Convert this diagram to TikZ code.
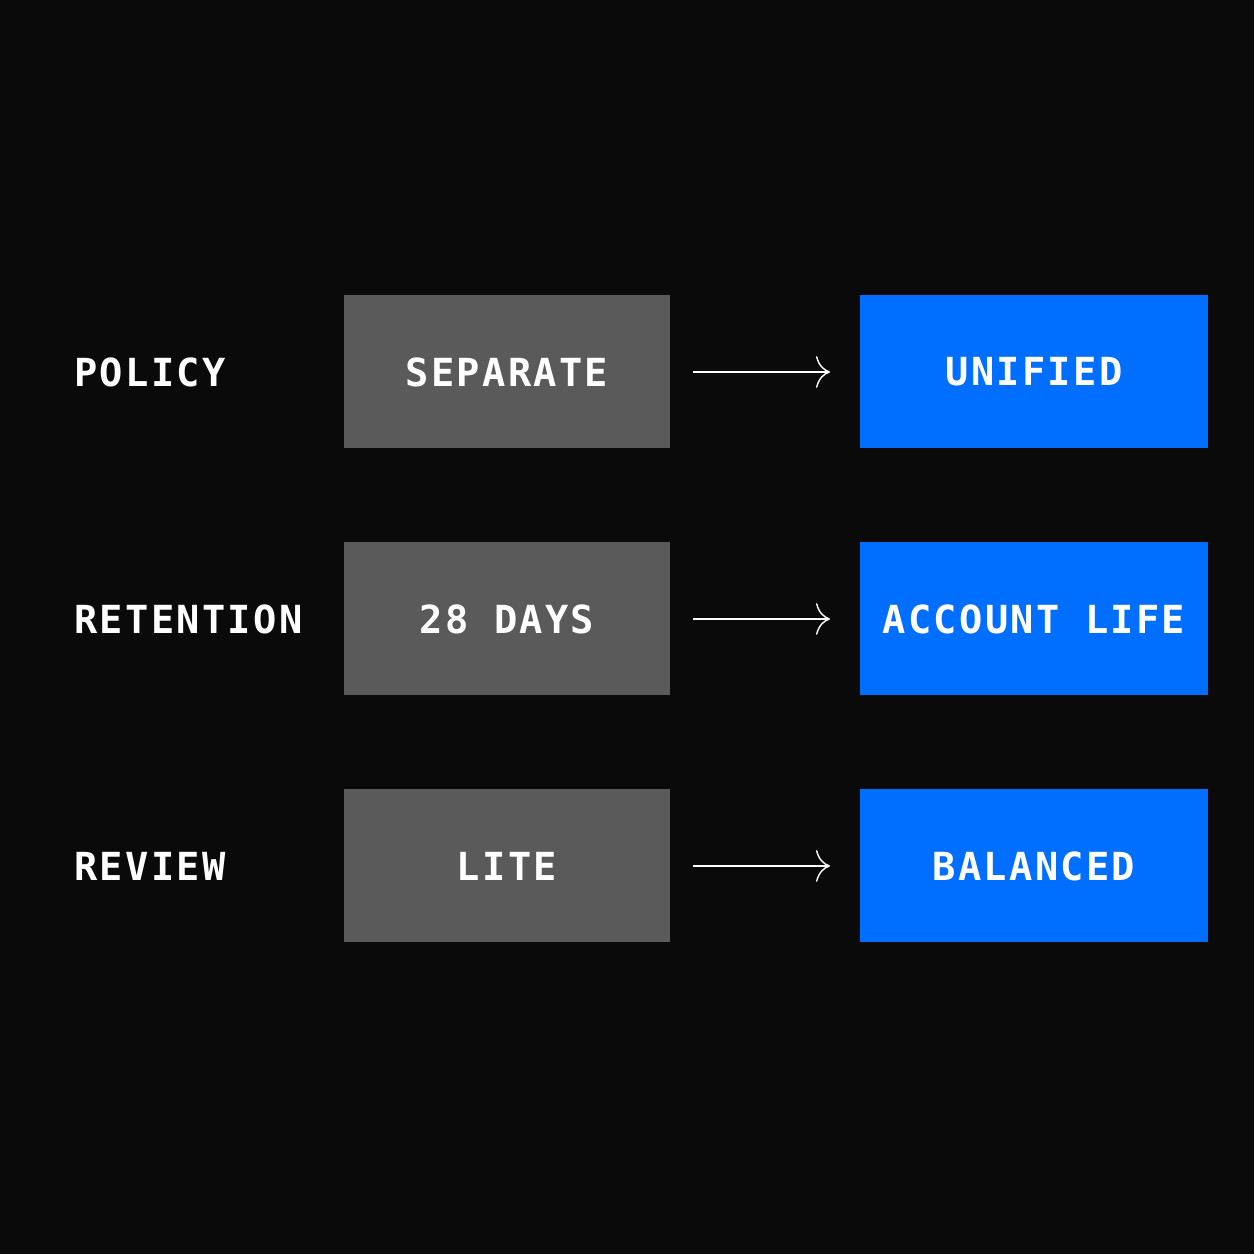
\documentclass[tikz,border=0pt]{standalone}
\usepackage{fontspec}
\newfontfamily\monofont[LetterSpace=6]{DejaVu Sans Mono}
\usetikzlibrary{positioning, arrows.meta}
\definecolor{BackColor}{RGB}{10,10,10}
\definecolor{OldColor}{RGB}{90,90,90}
\definecolor{NewColor}{RGB}{0,110,255}
\tikzstyle{label} = [anchor=west, text=white, font=\monofont\bfseries\fontsize{11}{13}\selectfont]
\tikzstyle{old} = [rectangle, fill=OldColor, minimum width=3.26cm, minimum height=1.53cm, text=white, font=\monofont\bfseries\fontsize{11}{13}\selectfont]
\tikzstyle{new} = [rectangle, fill=NewColor, minimum width=3.48cm, minimum height=1.53cm, text=white, font=\monofont\bfseries\fontsize{11}{13}\selectfont]
\tikzstyle{arrow} = [thin, white, -{To[length=4pt,width=9pt]}]
\begin{document}
\begin{tikzpicture}
            \fill[BackColor] (0,0) rectangle (12.54,12.54);
            \useasboundingbox (0,0) rectangle (12.54,12.54);
            % Policy
            \node[label] (policy) at (0.62,8.82) {POLICY};
            \node[old] (separate) at (5.07,8.82) {SEPARATE};
            \node[new] (unified) at (10.34,8.82) {UNIFIED};
            \coordinate (a1) at (6.93,8.82);
            \coordinate (b1) at (8.30,8.82);
            \draw[arrow] (a1) -- (b1);
            
            % Retention
            \node[label] (retention) at (0.62,6.35) {RETENTION};
            \node[old] (days) at (5.07,6.35) {28 DAYS};
            \node[new] (life) at (10.34,6.35) {ACCOUNT LIFE};
            \coordinate (a2) at (6.93,6.35);
            \coordinate (b2) at (8.30,6.35);
            \draw[arrow] (a2) -- (b2);
            
            % Review
            \node[label] (review) at (0.62,3.88) {REVIEW};
            \node[old] (lite) at (5.07,3.88) {LITE};
            \node[new] (balanced) at (10.34,3.88) {BALANCED};
            \coordinate (a3) at (6.93,3.88);
            \coordinate (b3) at (8.30,3.88);
            \draw[arrow] (a3) -- (b3);
        \end{tikzpicture}
\end{document}
